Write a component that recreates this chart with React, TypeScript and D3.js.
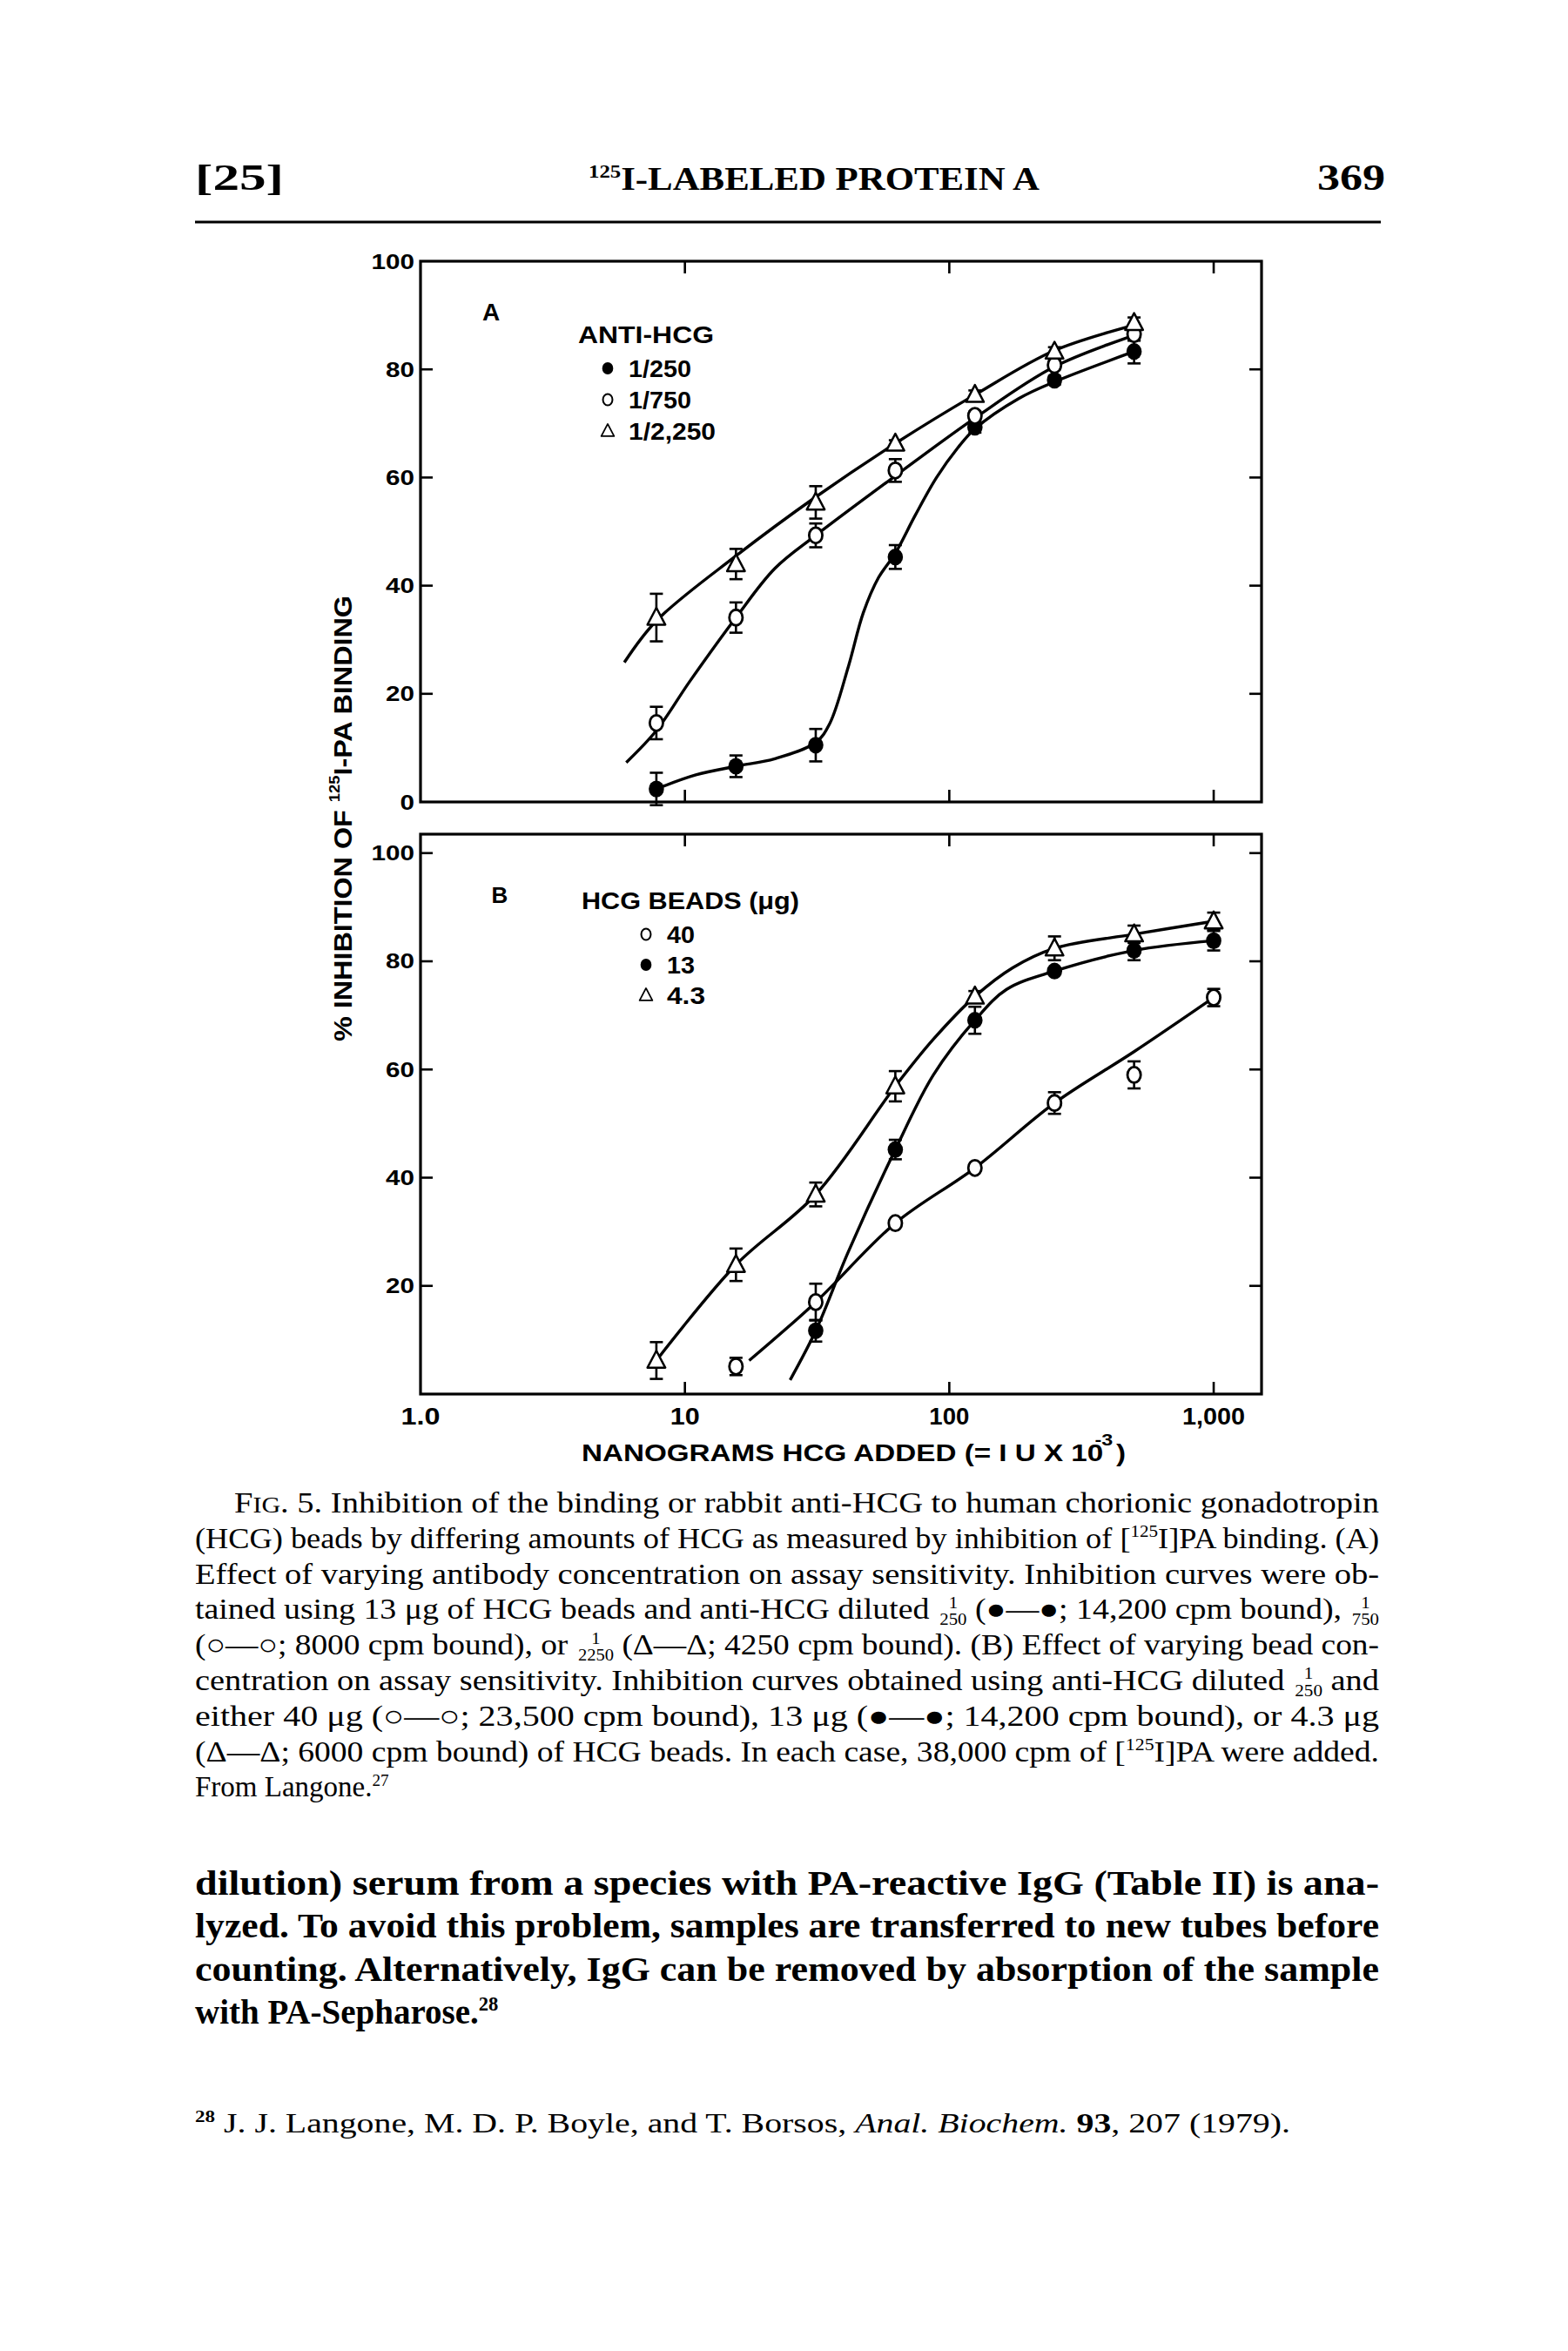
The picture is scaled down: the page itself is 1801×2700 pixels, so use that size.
import React from 'react';
import * as d3 from 'd3';

// ---------- DATA ----------
// Panel A: antibody dilution (13 ug HCG beads)
const doseA = [7.8, 15.6, 31.25, 62.5, 125, 250, 500];
const a250 = [2.4, 6.6, 10.5, 45.3, 69.3, 78.0, 83.3];
const a250Err = [3, 2, 3, 2.2, 1, 0.8, 2.2];
const a750 = [14.6, 34.1, 49.3, 61.3, 71.4, 80.8, 86.5];
const a750Err = [3, 2.8, 2.2, 2.1, 0.8, 0.8, 1.2];
const a2250 = [34.1, 44.0, 55.4, 66.3, 75.3, 83.3, 88.6];
const a2250Err = [4.4, 2.8, 3, 0.6, 0.8, 0.8, 1];

// fitted (hand-drawn) curves, panel A
const fitA250X = [7.8, 11, 15.6, 21.9, 31.25, 35.3, 41.5, 47.3, 54, 62.5, 74.3, 89.5, 107.7, 125, 183, 250, 500];
const fitA250Y = [2.4, 5.0, 6.6, 8.0, 11.0, 14.5, 25, 35, 41.5, 46, 53, 60, 65.5, 69, 74.6, 77.7, 83.3];
const fitA750X = [6.0, 7.8, 10.4, 15.6, 21.9, 31.25, 62.5, 125, 250, 500];
const fitA750Y = [7.3, 13.2, 22.2, 34.1, 43.2, 49.3, 60.3, 71.0, 80.5, 86.3];
const fitA2250X = [5.9, 7.8, 15.6, 31.25, 62.5, 125, 250, 500];
const fitA2250Y = [25.8, 33.5, 45.5, 56.4, 66.3, 75.3, 83.5, 88.2];

// Panel B: bead amount (anti-HCG 1/250)
const doseB40 = [15.6, 31.25, 62.5, 125, 250, 500, 1000];
const b40 = [5.1, 17.0, 31.6, 41.8, 53.8, 59.0, 73.3];
const b40Err = [1.6, 3.4, 0.5, 0.5, 2, 2.5, 1.6];
const doseB13 = [31.25, 62.5, 125, 250, 500, 1000];
const b13 = [11.7, 45.2, 69.1, 78.2, 82.0, 83.8];
const b13Err = [2, 1.8, 2.5, 0.6, 1.8, 1.8];
const doseB43 = [7.8, 15.6, 31.25, 62.5, 125, 250, 500, 1000];
const b43 = [6.2, 23.9, 36.9, 56.9, 73.5, 82.4, 85.0, 87.4];
const b43Err = [3.4, 3, 2.2, 2.8, 1, 2.2, 1.6, 1.6];

const fitB40X = [17.5, 31.25, 62.5, 125, 250, 500, 1000];
const fitB40Y = [6.2, 17.0, 31.6, 41.8, 53.8, 63.3, 73.3];
const fitB13X = [25, 31.25, 41.5, 62.5, 87.1, 125, 164.7, 250, 500, 1000];
const fitB13Y = [2.6, 11.7, 26.3, 45.2, 59, 69.1, 74.8, 78.2, 82, 83.8];
const fitB43X = [7.8, 15.6, 31.25, 62.5, 87.1, 125, 173.6, 250, 500, 1000];
const fitB43Y = [6.2, 23.9, 36.9, 56.9, 65.6, 73.5, 78.8, 82.4, 85.0, 87.4];

const yTicksA = [0, 20, 40, 60, 80, 100];
const yTicksB = [20, 40, 60, 80, 100];
const xTicks = [1, 10, 100, 1000];
const xTickLabels = ['1.0', '10', '100', '1,000'];

const legendA = ['1/250', '1/750', '1/2,250'];
const legendB = ['40', '13', '4.3'];

// caption text
type Seg = { t: string; sup?: boolean; frac?: [string, string]; sc?: boolean; it?: boolean; b?: boolean };
const captionLines: Seg[][] = [
  [{ t: 'F' }, { t: 'IG', sc: true }, { t: '. 5. Inhibition of the binding or rabbit anti-HCG to human chorionic gonadotropin' }],
  [{ t: '(HCG) beads by differing amounts of HCG as measured by inhibition of [' }, { t: '125', sup: true }, { t: 'I]PA binding. (A)' }],
  [{ t: 'Effect of varying antibody concentration on assay sensitivity. Inhibition curves were ob-' }],
  [{ t: 'tained using 13 \u03bcg of HCG beads and anti-HCG diluted ' }, { t: '', frac: ['1', '250'] }, { t: ' (\u25cf\u2014\u25cf; 14,200 cpm bound), ' }, { t: '', frac: ['1', '750'] }],
  [{ t: '(\u25cb\u2014\u25cb; 8000 cpm bound), or ' }, { t: '', frac: ['1', '2250'] }, { t: ' (\u0394\u2014\u0394; 4250 cpm bound). (B) Effect of varying bead con-' }],
  [{ t: 'centration on assay sensitivity. Inhibition curves obtained using anti-HCG diluted ' }, { t: '', frac: ['1', '250'] }, { t: ' and' }],
  [{ t: 'either 40 \u03bcg (\u25cb\u2014\u25cb; 23,500 cpm bound), 13 \u03bcg (\u25cf\u2014\u25cf; 14,200 cpm bound), or 4.3 \u03bcg' }],
  [{ t: '(\u0394\u2014\u0394; 6000 cpm bound) of HCG beads. In each case, 38,000 cpm of [' }, { t: '125', sup: true }, { t: 'I]PA were added.' }],
  [{ t: 'From Langone.' }, { t: '27', sup: true }],
];
const bodyLines: Seg[][] = [
  [{ t: 'dilution) serum from a species with PA-reactive IgG (Table II) is ana-' }],
  [{ t: 'lyzed. To avoid this problem, samples are transferred to new tubes before' }],
  [{ t: 'counting. Alternatively, IgG can be removed by absorption of the sample' }],
  [{ t: 'with PA-Sepharose.' }, { t: '28', sup: true }],
];
const footLine: Seg[] = [
  { t: '28', sup: true, b: true }, { t: ' J. J. Langone, M. D. P. Boyle, and T. Borsos, ' }, { t: 'Anal. Biochem.', it: true }, { t: ' ' }, { t: '93', b: true }, { t: ', 207 (1979).' },
];

// ---------- STYLE ----------
const SANS = "'Liberation Sans', Arial, Helvetica, sans-serif";
const SERIF = "'Liberation Serif', 'Times New Roman', serif";
const INK = '#000';

const X_L = 483, X_R = 1449;
const A_T = 300, A_B = 921;
const B_T = 958, B_B = 1601;

function renderSegs(segs: Seg[], fs: number) {
  const out: any[] = [];
  let k = 0;
  let pendingDy = 0;
  segs.forEach((s) => {
    if (s.frac) {
      const small = fs * 0.55;
      const nW = s.frac[0].length * small * 0.5;
      const dW = s.frac[1].length * small * 0.5;
      out.push(<tspan key={k++} fontSize={small} dx={(dW - nW) / 2 + 2} dy={-fs * 0.38 + pendingDy}>{s.frac[0]}</tspan>);
      out.push(<tspan key={k++} fontSize={small} dx={-((dW - nW) / 2 + nW)} dy={fs * 0.58}>{s.frac[1]}</tspan>);
      pendingDy = -fs * 0.2;
    } else if (s.sup) {
      out.push(<tspan key={k++} fontSize={fs * 0.58} dy={-fs * 0.38 + pendingDy} fontWeight={s.b ? 'bold' : undefined}>{s.t}</tspan>);
      pendingDy = fs * 0.38;
    } else {
      out.push(
        <tspan key={k++} dy={pendingDy || undefined} fontSize={s.sc ? fs * 0.78 : fs}
          fontStyle={s.it ? 'italic' : undefined} fontWeight={s.b ? 'bold' : undefined}>{s.t}</tspan>
      );
      pendingDy = 0;
    }
  });
  return out;
}

function Marker({ kind, cx, cy }: { kind: string; cx: number; cy: number }) {
  if (kind === 'filled') return <ellipse cx={cx} cy={cy} rx={8.8} ry={9.6} fill={INK} />;
  if (kind === 'open') return <ellipse cx={cx} cy={cy} rx={7.6} ry={9} fill="#fff" stroke={INK} strokeWidth={2.8} />;
  const s = 10.2;
  return (
    <path d={`M${cx},${cy - s * 1.1} L${cx + s},${cy + s * 0.8} L${cx - s},${cy + s * 0.8} Z`}
      fill="#fff" stroke={INK} strokeWidth={2.5} strokeLinejoin="round" />
  );
}

export default function App() {
  const x = d3.scaleLog().domain([1, 1517]).range([X_L, X_R]);
  const yA = d3.scaleLinear().domain([0, 100]).range([A_B, A_T]);
  const yB = d3.scaleLinear().domain([0, 103.5]).range([B_B, B_T]);

  const mkLine = (ys: any) =>
    d3.line<[number, number]>().x((d) => x(d[0])).y((d) => ys(d[1])).curve(d3.curveCatmullRom.alpha(0.5));
  const zip = (a: number[], b: number[]) => a.map((v, i) => [v, b[i]] as [number, number]);

  const panelA = [
    { kind: 'filled', xs: doseA, ys: a250, err: a250Err, fx: fitA250X, fy: fitA250Y },
    { kind: 'open', xs: doseA, ys: a750, err: a750Err, fx: fitA750X, fy: fitA750Y },
    { kind: 'tri', xs: doseA, ys: a2250, err: a2250Err, fx: fitA2250X, fy: fitA2250Y },
  ];
  const panelB = [
    { kind: 'open', xs: doseB40, ys: b40, err: b40Err, fx: fitB40X, fy: fitB40Y },
    { kind: 'filled', xs: doseB13, ys: b13, err: b13Err, fx: fitB13X, fy: fitB13Y },
    { kind: 'tri', xs: doseB43, ys: b43, err: b43Err, fx: fitB43X, fy: fitB43Y },
  ];

  const TL = 14;

  const frame = (top: number, bottom: number, ys: any, ticks: number[], key: string) => (
    <g key={key}>
      <rect x={X_L} y={top} width={X_R - X_L} height={bottom - top} fill="none" stroke={INK} strokeWidth={3.2} />
      {ticks.filter((t) => ys(t) > top + 2 && ys(t) < bottom - 2).map((t) => (
        <g key={t}>
          <line x1={X_L} x2={X_L + TL} y1={ys(t)} y2={ys(t)} stroke={INK} strokeWidth={2.6} />
          <line x1={X_R - TL} x2={X_R} y1={ys(t)} y2={ys(t)} stroke={INK} strokeWidth={2.6} />
        </g>
      ))}
      {xTicks.slice(1).map((t) => (
        <g key={'x' + t}>
          <line x1={x(t)} x2={x(t)} y1={top} y2={top + TL} stroke={INK} strokeWidth={2.6} />
          <line x1={x(t)} x2={x(t)} y1={bottom} y2={bottom - TL} stroke={INK} strokeWidth={2.6} />
        </g>
      ))}
      {ticks.map((t) => (
        <text key={'l' + t} x={476} y={ys(t) + 8.5} textAnchor="end" fontFamily={SANS} fontWeight="bold"
          fontSize={24} textLength={String(t).length * 16.5} lengthAdjust="spacingAndGlyphs">{t}</text>
      ))}
    </g>
  );

  const series = (ps: any[], ys: any, key: string) => {
    const line = mkLine(ys);
    return (
      <g key={key}>
        {ps.map((p, i) => (
          <path key={'c' + i} d={line(zip(p.fx, p.fy)) || ''} fill="none" stroke={INK} strokeWidth={3.4} />
        ))}
        {ps.map((p, i) => (
          <g key={'e' + i}>
            {p.xs.map((xv: number, j: number) => {
              const cx = x(xv);
              const y1 = ys(p.ys[j] - p.err[j]);
              const y2 = ys(p.ys[j] + p.err[j]);
              return (
                <g key={j}>
                  <line x1={cx} x2={cx} y1={y1} y2={y2} stroke={INK} strokeWidth={2.6} />
                  <line x1={cx - 7.5} x2={cx + 7.5} y1={y1} y2={y1} stroke={INK} strokeWidth={2.6} />
                  <line x1={cx - 7.5} x2={cx + 7.5} y1={y2} y2={y2} stroke={INK} strokeWidth={2.6} />
                </g>
              );
            })}
          </g>
        ))}
        {ps.map((p, i) => (
          <g key={'m' + i}>
            {p.xs.map((xv: number, j: number) => (
              <Marker key={j} kind={p.kind} cx={x(xv)} cy={ys(p.ys[j])} />
            ))}
          </g>
        ))}
      </g>
    );
  };

  const capFs = 33;
  const capBase = 1737;
  const capStep = 40.8;
  const bodyFs = 39;
  const bodyBase = 2176;
  const bodyStep = 49.3;
  const xLabW = [45, 34, 46, 72];
  const legAW = [72, 72, 100];
  const legBW = [32, 32, 44];

  return (
    <svg width={1801} height={2700} viewBox="0 0 1801 2700"
      style={{ position: 'absolute', left: 0, top: 0, display: 'block' }}>
      <rect x={0} y={0} width={1801} height={2700} fill="#fff" />

      {/* running header */}
      <text x={224} y={218} fontFamily={SERIF} fontWeight="bold" fontSize={42} textLength={102} lengthAdjust="spacingAndGlyphs">[25]</text>
      <text x={676} y={218} fontFamily={SERIF} fontWeight="bold" fontSize={38} textLength={518} lengthAdjust="spacingAndGlyphs">
        <tspan fontSize={22} dy={-14}>125</tspan>
        <tspan dy={14}>I-LABELED PROTEIN A</tspan>
      </text>
      <text x={1591} y={218} textAnchor="end" fontFamily={SERIF} fontWeight="bold" fontSize={42} textLength={78} lengthAdjust="spacingAndGlyphs">369</text>
      <line x1={224} x2={1586} y1={255} y2={255} stroke={INK} strokeWidth={3} />

      {/* panels */}
      {frame(A_T, A_B, yA, yTicksA, 'fa')}
      {frame(B_T, B_B, yB, yTicksB, 'fb')}
      {series(panelA, yA, 'sa')}
      {series(panelB, yB, 'sb')}

      {/* panel A legend */}
      <text x={564} y={368} textAnchor="middle" fontFamily={SANS} fontWeight="bold" fontSize={28}>A</text>
      <text x={664} y={394} fontFamily={SANS} fontWeight="bold" fontSize={27} textLength={156} lengthAdjust="spacingAndGlyphs">ANTI-HCG</text>
      {legendA.map((s, i) => {
        const cy = 423 + i * 36;
        const kind = ['filled', 'open', 'tri'][i];
        return (
          <g key={s}>
            <g transform={`translate(${698},${cy}) scale(0.72) translate(${-698},${-cy})`}>
              <Marker kind={kind} cx={698} cy={cy} />
            </g>
            <text x={722} y={cy + 10} fontFamily={SANS} fontWeight="bold" fontSize={27}
              textLength={legAW[i]} lengthAdjust="spacingAndGlyphs">{s}</text>
          </g>
        );
      })}

      {/* panel B legend */}
      <text x={574} y={1037} textAnchor="middle" fontFamily={SANS} fontWeight="bold" fontSize={26}>B</text>
      <text x={668} y={1044} fontFamily={SANS} fontWeight="bold" fontSize={27} textLength={250} lengthAdjust="spacingAndGlyphs">{'HCG BEADS (\u03bcg)'}</text>
      {legendB.map((s, i) => {
        const cy = 1073 + i * 35;
        const kind = ['open', 'filled', 'tri'][i];
        return (
          <g key={s}>
            <g transform={`translate(${742},${cy}) scale(0.72) translate(${-742},${-cy})`}>
              <Marker kind={kind} cx={742} cy={cy} />
            </g>
            <text x={766} y={cy + 10} fontFamily={SANS} fontWeight="bold" fontSize={27}
              textLength={legBW[i]} lengthAdjust="spacingAndGlyphs">{s}</text>
          </g>
        );
      })}

      {/* x tick labels */}
      {xTicks.map((t, i) => (
        <text key={t} x={x(t)} y={1636} textAnchor="middle" fontFamily={SANS} fontWeight="bold" fontSize={28}
          textLength={xLabW[i]} lengthAdjust="spacingAndGlyphs">{xTickLabels[i]}</text>
      ))}

      {/* x axis title */}
      <text x={668} y={1678} fontFamily={SANS} fontWeight="bold" fontSize={27} textLength={625} lengthAdjust="spacingAndGlyphs">
        <tspan>NANOGRAMS HCG ADDED (= I U  X 10</tspan>
        <tspan fontSize={19} dy={-18} dx={-8}>-3</tspan>
        <tspan dy={18} dx={3}>)</tspan>
      </text>

      {/* y axis title */}
      <text transform="translate(404,940) rotate(-90)" textAnchor="middle" fontFamily={SANS} fontWeight="bold"
        fontSize={30} textLength={512} lengthAdjust="spacingAndGlyphs">
        <tspan>% INHIBITION OF </tspan>
        <tspan fontSize={17} dy={-14}>125</tspan>
        <tspan dy={14}>I-PA BINDING</tspan>
      </text>

      {/* caption */}
      {captionLines.map((segs, i) => {
        const last = i === captionLines.length - 1;
        const x0 = i === 0 ? 269 : 224;
        return (
          <text key={'cap' + i} x={x0} y={capBase + i * capStep} fontFamily={SERIF} fontSize={capFs}
            textLength={last ? undefined : 1584 - x0} lengthAdjust="spacingAndGlyphs">
            {renderSegs(segs, capFs)}
          </text>
        );
      })}

      {/* body text */}
      {bodyLines.map((segs, i) => {
        const last = i === bodyLines.length - 1;
        return (
          <text key={'body' + i} x={224} y={bodyBase + i * bodyStep} fontFamily={SERIF} fontSize={bodyFs} fontWeight="bold"
            textLength={last ? undefined : 1360} lengthAdjust="spacingAndGlyphs">
            {renderSegs(segs, bodyFs)}
          </text>
        );
      })}

      {/* footnote */}
      <text x={224} y={2449} fontFamily={SERIF} fontSize={31} textLength={1258} lengthAdjust="spacingAndGlyphs">
        {renderSegs(footLine, 31)}
      </text>
    </svg>
  );
}
